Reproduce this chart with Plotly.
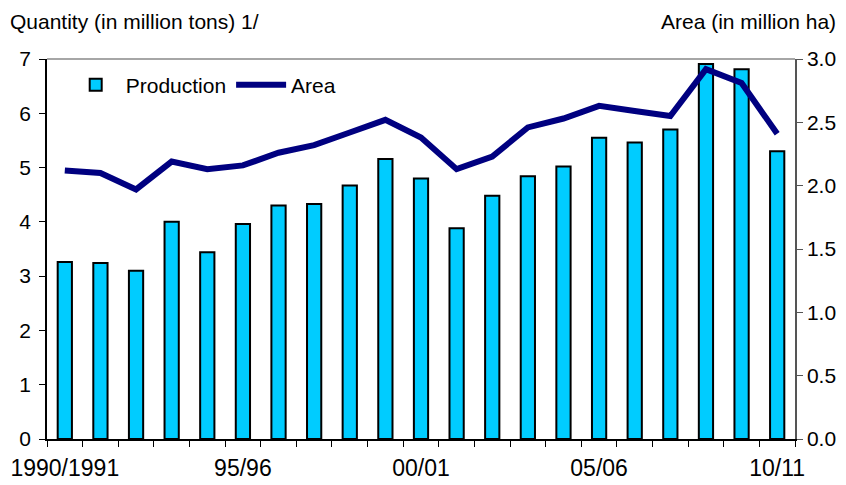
import plotly.graph_objects as go

# Crop seasons (marketing years)
seasons = ["1990/1991", "91/92", "92/93", "93/94", "94/95", "95/96", "96/97",
           "97/98", "98/99", "99/00", "00/01", "01/02", "02/03", "03/04",
           "04/05", "05/06", "06/07", "07/08", "08/09", "09/10", "10/11"]

# Production, million tons
production = [3.26, 3.24, 3.10, 4.00, 3.44, 3.96, 4.30, 4.33, 4.67, 5.16, 4.80,
              3.88, 4.48, 4.84, 5.02, 5.55, 5.46, 5.70, 6.91, 6.81, 5.30]

# Harvested area, million ha
area = [2.12, 2.10, 1.97, 2.19, 2.13, 2.16, 2.26, 2.32, 2.42, 2.52, 2.38,
        2.13, 2.23, 2.46, 2.53, 2.63, 2.59, 2.55, 2.92, 2.81, 2.41]

labelled = ["1990/1991", "95/96", "00/01", "05/06", "10/11"]
tick_text = [s if s in labelled else "" for s in seasons]

FONT = "Liberation Sans, Arial, sans-serif"

fig = go.Figure()
fig.add_trace(go.Bar(
    x=seasons, y=production, name="Production",
    marker=dict(color="#00CCFF", line=dict(color="#000000", width=2)),
    yaxis="y",
))
fig.add_trace(go.Scatter(
    x=seasons, y=area, name="Area", mode="lines",
    line=dict(color="#000080", width=6),
    yaxis="y2",
))

fig.update_layout(
    width=846, height=485,
    margin=dict(l=47, r=51, t=59, b=46),
    paper_bgcolor="white", plot_bgcolor="white",
    font=dict(family=FONT, size=21, color="#000000"),
    bargap=0.6,
    showlegend=True,
    legend=dict(orientation="h", x=0.025, y=0.985, xanchor="left", yanchor="top",
                bgcolor="rgba(0,0,0,0)", font=dict(size=21),
                itemwidth=50, tracegroupgap=0),
    xaxis=dict(
        type="category", tickmode="array", tickvals=seasons, ticktext=tick_text,
        tickson="boundaries", ticks="outside", ticklen=6, tickcolor="#000000",
        tickangle=0, automargin=False, ticklabelstandoff=8,
        showline=True, linecolor="#000000", linewidth=1.5,
        showgrid=False, zeroline=False, tickfont=dict(size=23),
        range=[-0.5, len(seasons) - 0.5],
    ),
    yaxis=dict(
        range=[0, 7], dtick=1, ticks="outside", ticklen=6, tickcolor="#000000",
        showline=True, linecolor="#000000", linewidth=1.5, automargin=False,
        showgrid=False, zeroline=False, tickfont=dict(size=21),
        ticklabelstandoff=4,
    ),
    yaxis2=dict(
        range=[0, 3], dtick=0.5, tickformat=".1f", overlaying="y", side="right",
        ticks="outside", ticklen=6, tickcolor="#555555", automargin=False,
        showline=True, linecolor="#555555", linewidth=1.5,
        showgrid=False, zeroline=False, tickfont=dict(size=21),
    ),
    shapes=[dict(type="line", xref="paper", yref="paper", x0=0, x1=1, y0=1, y1=1,
                 line=dict(color="#888888", width=1.5))],
    annotations=[
        dict(text="Quantity (in million tons) 1/", xref="paper", yref="paper",
             x=-39 / 748, y=1.0, xanchor="left", yanchor="bottom", yshift=24,
             showarrow=False, font=dict(size=21)),
        dict(text="Area (in million ha)", xref="paper", yref="paper",
             x=1 + 43 / 748, y=1.0, xanchor="right", yanchor="bottom", yshift=24,
             showarrow=False, font=dict(size=21)),
    ],
)

fig.write_html("out.html")
